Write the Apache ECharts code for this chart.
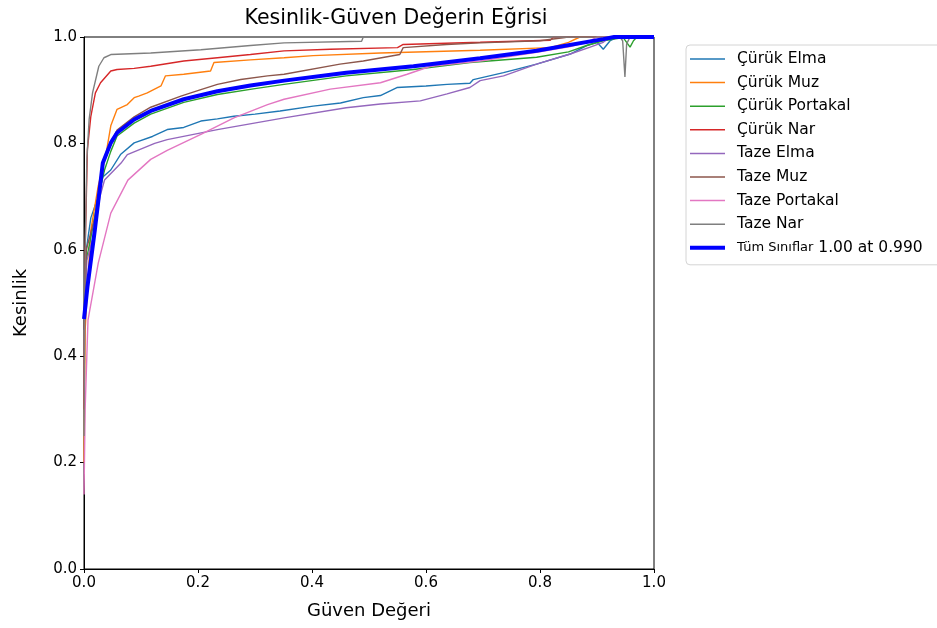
<!DOCTYPE html>
<html>
<head>
<meta charset="utf-8">
<script src="https://cdn.jsdelivr.net/npm/echarts@6/dist/echarts.min.js"></script>
<style>
  html, body { margin: 0; padding: 0; background: #fff; overflow: hidden; }
  #chart { width: 937px; height: 628px; }
</style>
</head>
<body>
<div id="chart"></div>
<script>
// Precision vs. confidence curves, one per class plus the all-class curve.
const seriesNames = ['Çürük Elma', 'Çürük Muz', 'Çürük Portakal', 'Çürük Nar',
  'Taze Elma', 'Taze Muz', 'Taze Portakal', 'Taze Nar', 'Tüm Sınıflar'];
const seriesColors = ['#1f77b4', '#ff7f0e', '#2ca02c', '#d62728',
  '#9467bd', '#8c564b', '#e377c2', '#7f7f7f', '#0000ff'];
const axisTicks = [0.0, 0.2, 0.4, 0.6, 0.8, 1.0];
const allClassNote = '1.00 at 0.990';

const curukElma = [[0,0.45],[0.004,0.6],[0.012,0.66],[0.025,0.70],[0.033,0.737],[0.047,0.75],[0.064,0.779],[0.088,0.801],[0.12,0.813],[0.146,0.826],[0.175,0.83],[0.205,0.842],[0.234,0.846],[0.263,0.851],[0.3,0.855],[0.344,0.861],[0.402,0.870],[0.45,0.876],[0.49,0.886],[0.52,0.89],[0.549,0.905],[0.6,0.908],[0.637,0.911],[0.677,0.913],[0.683,0.92],[0.736,0.933],[0.794,0.949],[0.853,0.968],[0.882,0.984],[0.9,0.99],[0.911,0.977],[0.923,0.993],[0.935,0.999],[0.96,1.0],[1,1]];
const curukMuz = [[0,0.2],[0.002,0.45],[0.012,0.637],[0.025,0.72],[0.038,0.776],[0.047,0.833],[0.058,0.864],[0.076,0.873],[0.088,0.886],[0.096,0.889],[0.111,0.895],[0.135,0.908],[0.143,0.927],[0.175,0.930],[0.222,0.936],[0.228,0.952],[0.292,0.957],[0.351,0.961],[0.402,0.965],[0.52,0.970],[0.695,0.975],[0.818,0.980],[0.85,0.99],[0.87,1.0],[1,1]];
const curukPortakal = [[0,0.45],[0.004,0.58],[0.015,0.64],[0.025,0.70],[0.036,0.75],[0.047,0.785],[0.058,0.814],[0.088,0.838],[0.117,0.855],[0.175,0.877],[0.234,0.892],[0.3,0.903],[0.351,0.911],[0.46,0.927],[0.578,0.939],[0.677,0.952],[0.794,0.962],[0.85,0.972],[0.882,0.984],[0.911,0.993],[0.946,0.999],[0.958,0.981],[0.964,0.993],[0.970,1.0],[1,1]];
const curukNar = [[0,0.3],[0.002,0.6],[0.006,0.789],[0.012,0.851],[0.020,0.895],[0.029,0.914],[0.047,0.936],[0.058,0.939],[0.088,0.941],[0.117,0.945],[0.175,0.955],[0.234,0.961],[0.292,0.967],[0.351,0.974],[0.432,0.977],[0.55,0.980],[0.56,0.986],[0.695,0.990],[0.818,0.994],[0.823,0.999],[0.87,1.0],[1,1]];
const tazeElma = [[0,0.45],[0.005,0.58],[0.019,0.637],[0.028,0.70],[0.036,0.731],[0.065,0.763],[0.076,0.779],[0.124,0.80],[0.146,0.807],[0.234,0.826],[0.351,0.848],[0.46,0.867],[0.52,0.874],[0.59,0.880],[0.637,0.893],[0.677,0.905],[0.695,0.918],[0.736,0.927],[0.794,0.949],[0.853,0.968],[0.888,0.981],[0.911,0.990],[0.923,1.0],[1,1]];
const tazeMuz = [[0,0.45],[0.004,0.6],[0.019,0.66],[0.033,0.76],[0.047,0.80],[0.058,0.825],[0.088,0.85],[0.117,0.868],[0.170,0.889],[0.205,0.901],[0.234,0.911],[0.275,0.920],[0.322,0.927],[0.351,0.930],[0.449,0.949],[0.49,0.955],[0.554,0.967],[0.56,0.980],[0.636,0.986],[0.695,0.989],[0.8,0.993],[0.85,1.0],[1,1]];
const tazePortakal = [[0,0.14],[0.002,0.3],[0.007,0.468],[0.025,0.575],[0.047,0.669],[0.077,0.731],[0.117,0.77],[0.146,0.787],[0.205,0.817],[0.263,0.848],[0.322,0.873],[0.351,0.883],[0.432,0.902],[0.52,0.914],[0.567,0.930],[0.608,0.945],[0.695,0.955],[0.794,0.971],[0.853,0.982],[0.882,0.990],[0.9,1.0],[1,1]];
const tazeNar = [[0,0.25],[0.002,0.6],[0.005,0.77],[0.009,0.845],[0.015,0.895],[0.026,0.945],[0.035,0.961],[0.047,0.967],[0.117,0.970],[0.205,0.976],[0.292,0.984],[0.351,0.989],[0.487,0.992],[0.49,1.0],[0.94,1.0],[0.945,0.993],[0.949,0.925],[0.952,0.987],[0.958,1.0],[1,1]];
const tumSiniflar = [[0,0.47],[0.006,0.53],[0.019,0.637],[0.033,0.763],[0.047,0.801],[0.058,0.820],[0.088,0.845],[0.117,0.861],[0.175,0.883],[0.234,0.898],[0.292,0.909],[0.351,0.918],[0.46,0.933],[0.578,0.945],[0.695,0.960],[0.794,0.974],[0.911,0.996],[0.93,1.0],[1,1]];

const seriesData = [curukElma, curukMuz, curukPortakal, curukNar,
  tazeElma, tazeMuz, tazePortakal, tazeNar, tumSiniflar];

const FONT = 'DejaVu Sans';
const chart = echarts.init(document.getElementById('chart'), null, { renderer: 'canvas' });

const lastIndex = seriesNames.length - 1;

const series = seriesNames.map((name, i) => ({
  name,
  type: 'line',
  data: seriesData[i],
  showSymbol: false,
  symbol: 'none',
  animation: false,
  z: i === lastIndex ? 5 : 2,
  lineStyle: { color: seriesColors[i], width: i === lastIndex ? 4 : 1.4 },
  itemStyle: { color: seriesColors[i] }
}));

// Legend keys are plain horizontal strokes: thin for classes, thick for the total.
const thinKey = 'path://M0,0 L35,0 L35,1.5 L0,1.5 Z';
const thickKey = 'path://M0,0 L35,0 L35,4 L0,4 Z';
const legendData = seriesNames.map((name, i) => ({
  name,
  icon: i === lastIndex ? thickKey : thinKey
}));

const axisCommon = {
  type: 'value',
  min: 0,
  max: 1,
  interval: 0.2,
  axisLine: { show: true, lineStyle: { color: '#000', width: 1 } },
  axisTick: { show: true, inside: false, length: 4, lineStyle: { color: '#000' } },
  splitLine: { show: false },
  axisLabel: {
    color: '#000', fontFamily: FONT, fontSize: 15, margin: 7,
    formatter: v => v.toFixed(1)
  },
  nameTextStyle: { color: '#000', fontFamily: FONT, fontSize: 18 }
};

chart.setOption({
  backgroundColor: '#fff',
  animation: false,
  title: {
    text: 'Kesinlik-Güven Değerin Eğrisi',
    left: 391,
    textAlign: 'center',
    top: 3,
    textStyle: { color: '#000', fontFamily: FONT, fontSize: 20.5, fontWeight: 'normal' }
  },
  grid: {
    left: 84, right: 283, top: 37, bottom: 59,
    show: true, borderColor: '#000', borderWidth: 1, backgroundColor: 'transparent'
  },
  xAxis: Object.assign({}, axisCommon, {
    name: 'Güven Değeri',
    nameLocation: 'middle',
    nameGap: 33
  }),
  yAxis: Object.assign({}, axisCommon, {
    name: 'Kesinlik',
    nameLocation: 'middle',
    nameRotate: 90,
    nameGap: 54
  }),
  legend: {
    orient: 'vertical',
    left: 686,
    top: 45,
    padding: [6, 20, 9, 4],
    itemWidth: 35,
    itemHeight: 14,
    itemGap: 7.6,
    symbolKeepAspect: true,
    backgroundColor: '#fff',
    borderColor: '#d4d4d4',
    borderWidth: 1,
    borderRadius: 4,
    data: legendData,
    formatter: name => name === seriesNames[lastIndex]
      ? '{s|' + name + '} {b|' + allClassNote + '}'
      : name,
    textStyle: {
      color: '#000', fontFamily: FONT, fontSize: 15.5, padding: [0, 0, 0, 7],
      rich: {
        s: { fontFamily: FONT, fontSize: 13, color: '#000' },
        b: { fontFamily: FONT, fontSize: 15.5, color: '#000' }
      }
    }
  },
  series
});
</script>
</body>
</html>
